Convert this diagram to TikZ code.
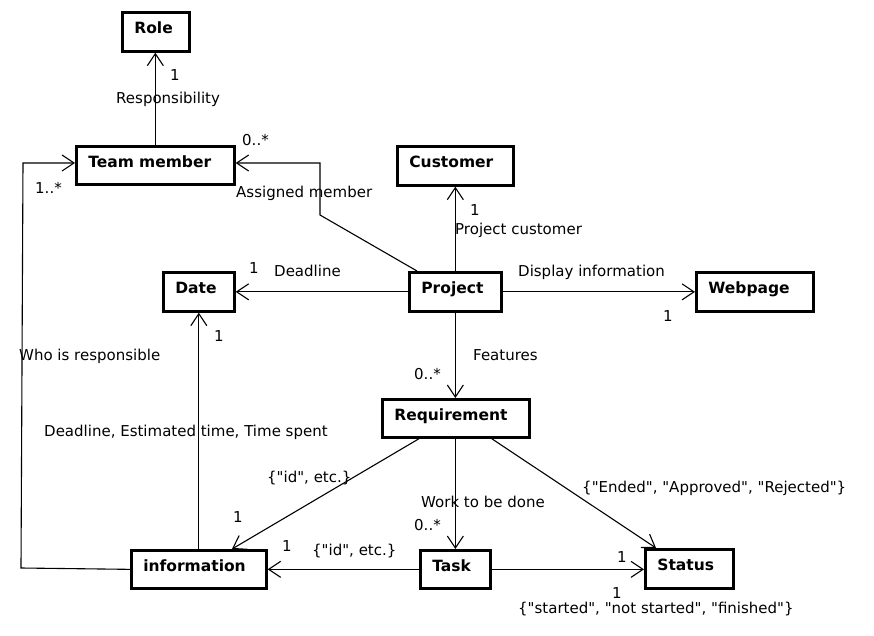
\documentclass[tikz,border=0pt]{standalone}
\usepackage{fontspec}
\setmainfont{DejaVu Sans}[Ligatures=TeXOff]
\usetikzlibrary{arrows.meta}
\tikzset{
  umlbox/.style={draw, line width=2.7pt, anchor=north west, inner xsep=12pt, inner ysep=0pt,
    align=left, font=\fontsize{15.5}{18}\selectfont\bfseries, text height=21pt},
  assoc/.style={line width=1.1pt, -{Straight Barb[length=12pt,width=16pt,line width=1.1pt]}},
  lbl/.style={anchor=base west, inner sep=0pt, font=\fontsize{15}{18}\selectfont},
}
\begin{document}
\begin{tikzpicture}[x=1pt,y=-1pt]
\fill[white] (0,0) rectangle (874,636);
\useasboundingbox (0,0) rectangle (874,636);

% boxes
\node[umlbox, text width=43pt, text depth=18pt] (role) at (121,11) {Role};
\node[umlbox, text width=134pt, text depth=17pt] (tm) at (75,145) {Team member};
\node[umlbox, text width=92pt, text depth=18pt] (cust) at (396,145) {Customer};
\node[umlbox, text width=47pt, text depth=18pt] (date) at (162,271) {Date};
\node[umlbox, text width=68pt, text depth=18pt] (proj) at (408,271) {Project};
\node[umlbox, text width=93pt, text depth=18pt] (web) at (695,271) {Webpage};
\node[umlbox, text width=123pt, text depth=17pt] (req) at (381,398) {Requirement};
\node[umlbox, text width=111pt, text depth=17pt] (info) at (130,549) {information};
\node[umlbox, text width=46pt, text depth=17pt] (task) at (419,549) {Task};
\node[umlbox, text width=64pt, text depth=18pt] (status) at (644,548) {Status};

% bend points
\coordinate (pa) at (320,215);
\coordinate (pb) at (320,163);
\coordinate (wa) at (21,568);
\coordinate (wb) at (23,163);

% connectors
\draw[assoc] (tm.north) -- (tm.north |- role.south);
\draw[assoc] ([xshift=9pt]proj.north west) -- (pa) -- (pb) -- (pb -| tm.east);
\draw[assoc] (proj.north) -- (proj.north |- cust.south);
\draw[assoc] (proj.west) -- (proj.west -| date.east);
\draw[assoc] (proj.east) -- (proj.east -| web.west);
\draw[assoc] (proj.south) -- (proj.south |- req.north);
\draw[assoc] ([xshift=38pt]req.south west) -- ([xshift=102pt]info.north west);
\draw[assoc] (task.north |- req.south) -- (task.north);
\draw[assoc] ([xshift=-39pt]req.south east) -- ([xshift=12pt]status.north west);
\draw[assoc] (task.west) -- (task.west -| info.east);
\draw[assoc] (task.east) -- (task.east -| status.west);
\draw[assoc] (info.north) -- (info.north |- date.south);
\draw[assoc] (info.west) -- (wa) -- (wb) -- (wb -| tm.west);

% labels
\node[lbl] (l1) at (170,81) {1};
\node[lbl] (l2) at (116,104) {Responsibility};
\node[lbl] (l3) at (242,146) {0..*};
\node[lbl] (l4) at (236,198) {Assigned member};
\node[lbl] (l5) at (35,194) {1..*};
\node[lbl] (l6) at (249,273) {1};
\node[lbl] (l7) at (274,276) {Deadline};
\node[lbl] (l8) at (470,215) {1};
\node[lbl] (l9) at (455,234) {Project customer};
\node[lbl] (l10) at (518,276) {Display information};
\node[lbl] (l11) at (663,321) {1};
\node[lbl] (l12) at (473,360) {Features};
\node[lbl] (l13) at (414,379) {0..*};
\node[lbl] (l14) at (19,360) {Who is responsible};
\node[lbl] (l15) at (214,341) {1};
\node[lbl] (l16) at (44,436) {Deadline, Estimated time, Time spent};
\node[lbl] (l17) at (267,482) {\{"id", etc.\}};
\node[lbl] (l18) at (233,522) {1};
\node[lbl] (l19) at (421,507) {Work to be done};
\node[lbl] (l20) at (414,530) {0..*};
\node[lbl] (l21) at (582,492) {\{"Ended", "Approved", "Rejected"\}};
\node[lbl] (l22) at (282,551) {1};
\node[lbl] (l23) at (312,555) {\{"id", etc.\}};
\node[lbl] (l24) at (617,562) {1};
\node[lbl] (l25) at (612,598) {1};
\node[lbl] (l26) at (518,613) {\{"started", "not started", "finished"\}};
\end{tikzpicture}
\end{document}
